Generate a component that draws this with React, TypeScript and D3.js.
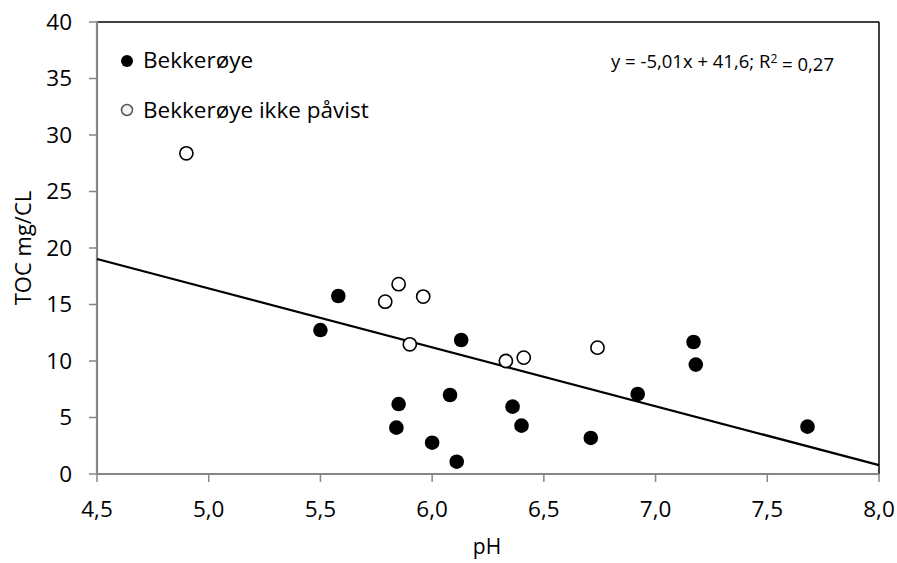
import React from "react";
import * as d3 from "d3";

const detected = [
  { ph: 5.5, toc: 12.74 }, { ph: 5.58, toc: 15.75 }, { ph: 5.84, toc: 4.1 },
  { ph: 5.85, toc: 6.19 }, { ph: 6.0, toc: 2.77 }, { ph: 6.08, toc: 6.99 },
  { ph: 6.11, toc: 1.09 }, { ph: 6.13, toc: 11.86 }, { ph: 6.36, toc: 5.96 },
  { ph: 6.4, toc: 4.28 }, { ph: 6.71, toc: 3.19 }, { ph: 6.92, toc: 7.08 },
  { ph: 7.17, toc: 11.68 }, { ph: 7.18, toc: 9.68 }, { ph: 7.68, toc: 4.19 },
];
const notDetected = [
  { ph: 4.9, toc: 28.38 }, { ph: 5.79, toc: 15.25 }, { ph: 5.85, toc: 16.8 },
  { ph: 5.96, toc: 15.7 }, { ph: 5.9, toc: 11.48 }, { ph: 6.33, toc: 10.0 },
  { ph: 6.41, toc: 10.3 }, { ph: 6.74, toc: 11.18 },
];
const xTicks = [4.5, 5.0, 5.5, 6.0, 6.5, 7.0, 7.5, 8.0];
const yTicks = [0, 5, 10, 15, 20, 25, 30, 35, 40];
const trendSlope = -5.21;
const trendIntercept = 42.47;
const legendLabels = ["Bekkerøye", "Bekkerøye ikke påvist"];

const FONT = "'Open Sans', sans-serif";

export default function App() {
  const left = 97, right = 879, top = 22, bottom = 474;
  const x = d3.scaleLinear().domain([4.5, 8.0]).range([left, right]);
  const y = d3.scaleLinear().domain([0, 40]).range([bottom, top]);
  const fmt = (v: number) => v.toFixed(1).replace(".", ",");
  const line = d3.line<number>().x((d) => x(d)).y((d) => y(trendSlope * d + trendIntercept));

  return (
    <svg width={897} height={563} style={{ position: "absolute", left: 0, top: 0, background: "#fff" }}>
      <rect x={0} y={0} width={897} height={563} fill="#fff" />
      <line x1={left} x2={right} y1={top} y2={top} stroke="#000" strokeWidth={1.5} />
      <line x1={right} x2={right} y1={top} y2={bottom} stroke="#000" strokeWidth={1.5} />
      <line x1={left} x2={left} y1={top - 1} y2={bottom} stroke="#868686" strokeWidth={2.2} />
      <line x1={left - 1} x2={right} y1={bottom} y2={bottom} stroke="#868686" strokeWidth={2.2} />
      {yTicks.map((t) => (
        <g key={"y" + t}>
          <line x1={left - 8} x2={left} y1={y(t)} y2={y(t)} stroke="#868686" strokeWidth={1.5} />
          <text x={72} y={y(t)} dy="0.34em" textAnchor="end" fontFamily={FONT} fontSize={22.5} fill="#000">
            {t}
          </text>
        </g>
      ))}
      {xTicks.map((t) => (
        <g key={"x" + t}>
          <line x1={x(t)} x2={x(t)} y1={bottom} y2={bottom + 8} stroke="#868686" strokeWidth={1.5} />
          <text x={x(t)} y={517} textAnchor="middle" fontFamily={FONT} fontSize={22.5} fill="#000">
            {fmt(t)}
          </text>
        </g>
      ))}
      <text x={487} y={554} textAnchor="middle" fontFamily={FONT} fontSize={21} fill="#000">pH</text>
      <text transform={`translate(31,248) rotate(-90)`} textAnchor="middle" fontFamily={FONT} fontSize={22} fill="#000">
        TOC mg/CL
      </text>
      <path d={line([4.5, 8.0]) || ""} stroke="#000" strokeWidth={2.2} fill="none" />
      {detected.map((d, i) => (
        <circle key={"d" + i} cx={x(d.ph)} cy={y(d.toc)} r={7.3} fill="#000" />
      ))}
      {notDetected.map((d, i) => (
        <circle key={"n" + i} cx={x(d.ph)} cy={y(d.toc)} r={6.6} fill="#fff" stroke="#000" strokeWidth={1.6} />
      ))}
      <circle cx={127} cy={61} r={6} fill="#000" />
      <text x={143} y={68} fontFamily={FONT} fontSize={22.5} fill="#000">{legendLabels[0]}</text>
      <circle cx={127} cy={110} r={5.5} fill="#f4f4f4" stroke="#555" strokeWidth={1.5} />
      <text x={143} y={118} fontFamily={FONT} fontSize={22.5} fill="#000">{legendLabels[1]}</text>
      <text x={722.5} y={68} textAnchor="middle" fontFamily={FONT} fontSize={18.5} fill="#000">
        y = -5,01x + 41,6; R<tspan dy="-0.45em" fontSize={12}>2</tspan><tspan dy="0.45em"> = 0,27</tspan>
      </text>
    </svg>
  );
}
